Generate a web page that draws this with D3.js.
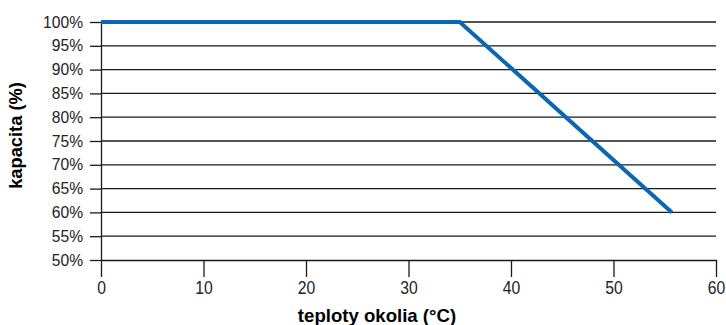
<!DOCTYPE html>
<html>
<head>
<meta charset="utf-8">
<script src="https://cdn.jsdelivr.net/npm/d3@7"></script>
<style>
  html, body { margin: 0; padding: 0; background: #fff; }
  svg text { font-family: "Liberation Sans", Arial, sans-serif; }
</style>
</head>
<body>
<div id="chart"></div>
<script>
// Capacity derating vs. ambient temperature
const temperatures = [0, 35, 55.7];
const capacities = [100, 100, 60];
const xTicks = [0, 10, 20, 30, 40, 50, 60];
const yTicks = [50, 55, 60, 65, 70, 75, 80, 85, 90, 95, 100];
const xTitle = "teploty okolia (°C)";
const yTitle = "kapacita (%)";

const W = 726, H = 325;
const margin = { left: 101, right: 10, top: 22, bottom: 65 };

const svg = d3.select("#chart").append("svg")
  .attr("width", W).attr("height", H);

const x = d3.scaleLinear().domain([0, 60]).range([margin.left, 716]);
const y = d3.scaleLinear().domain([50, 100]).range([260, margin.top]);

// horizontal grid lines
svg.append("g")
  .selectAll("line")
  .data(yTicks.filter(d => d > 50))
  .join("line")
  .attr("x1", x(0)).attr("x2", x(60))
  .attr("y1", d => y(d)).attr("y2", d => y(d))
  .attr("stroke", "#1a1a1a").attr("stroke-width", 1.3);

// y axis
const yAxis = svg.append("g")
  .attr("transform", `translate(${x(0)},0)`)
  .call(d3.axisLeft(y).tickValues(yTicks).tickFormat(d => d + "%").tickSizeInner(11).tickSizeOuter(0).tickPadding(7));

// x axis
const xAxis = svg.append("g")
  .attr("transform", `translate(0,${y(50)})`)
  .call(d3.axisBottom(x).tickValues(xTicks).tickSizeInner(17).tickSizeOuter(0).tickPadding(4));

[yAxis, xAxis].forEach(g => {
  g.select(".domain").attr("stroke", "#1a1a1a").attr("stroke-width", 1.3);
  g.selectAll(".tick line").attr("stroke", "#1a1a1a").attr("stroke-width", 1.3);
  g.selectAll(".tick text").attr("fill", "#222");
});
yAxis.selectAll(".tick text").style("font-size", "15.6px");
// taller, narrower temperature labels
xAxis.selectAll(".tick text")
  .style("font-size", "18.5px")
  .attr("transform", "scale(0.85,1)");

// derating line
svg.append("path")
  .datum(temperatures.map((t, i) => [t, capacities[i]]))
  .attr("d", d3.line().x(d => x(d[0])).y(d => y(d[1])))
  .attr("fill", "none")
  .attr("stroke", "#0a67b4")
  .attr("stroke-width", 4)
  .attr("stroke-linejoin", "miter");

// axis titles
svg.append("text")
  .attr("x", 377).attr("y", 322)
  .attr("text-anchor", "middle")
  .style("font-weight", "bold").style("font-size", "18.6px")
  .attr("fill", "#000")
  .text(xTitle);

svg.append("text")
  .attr("transform", "translate(22,135.5) rotate(-90)")
  .attr("text-anchor", "middle")
  .style("font-weight", "bold").style("font-size", "18.3px")
  .attr("fill", "#000")
  .text(yTitle);
</script>
</body>
</html>
